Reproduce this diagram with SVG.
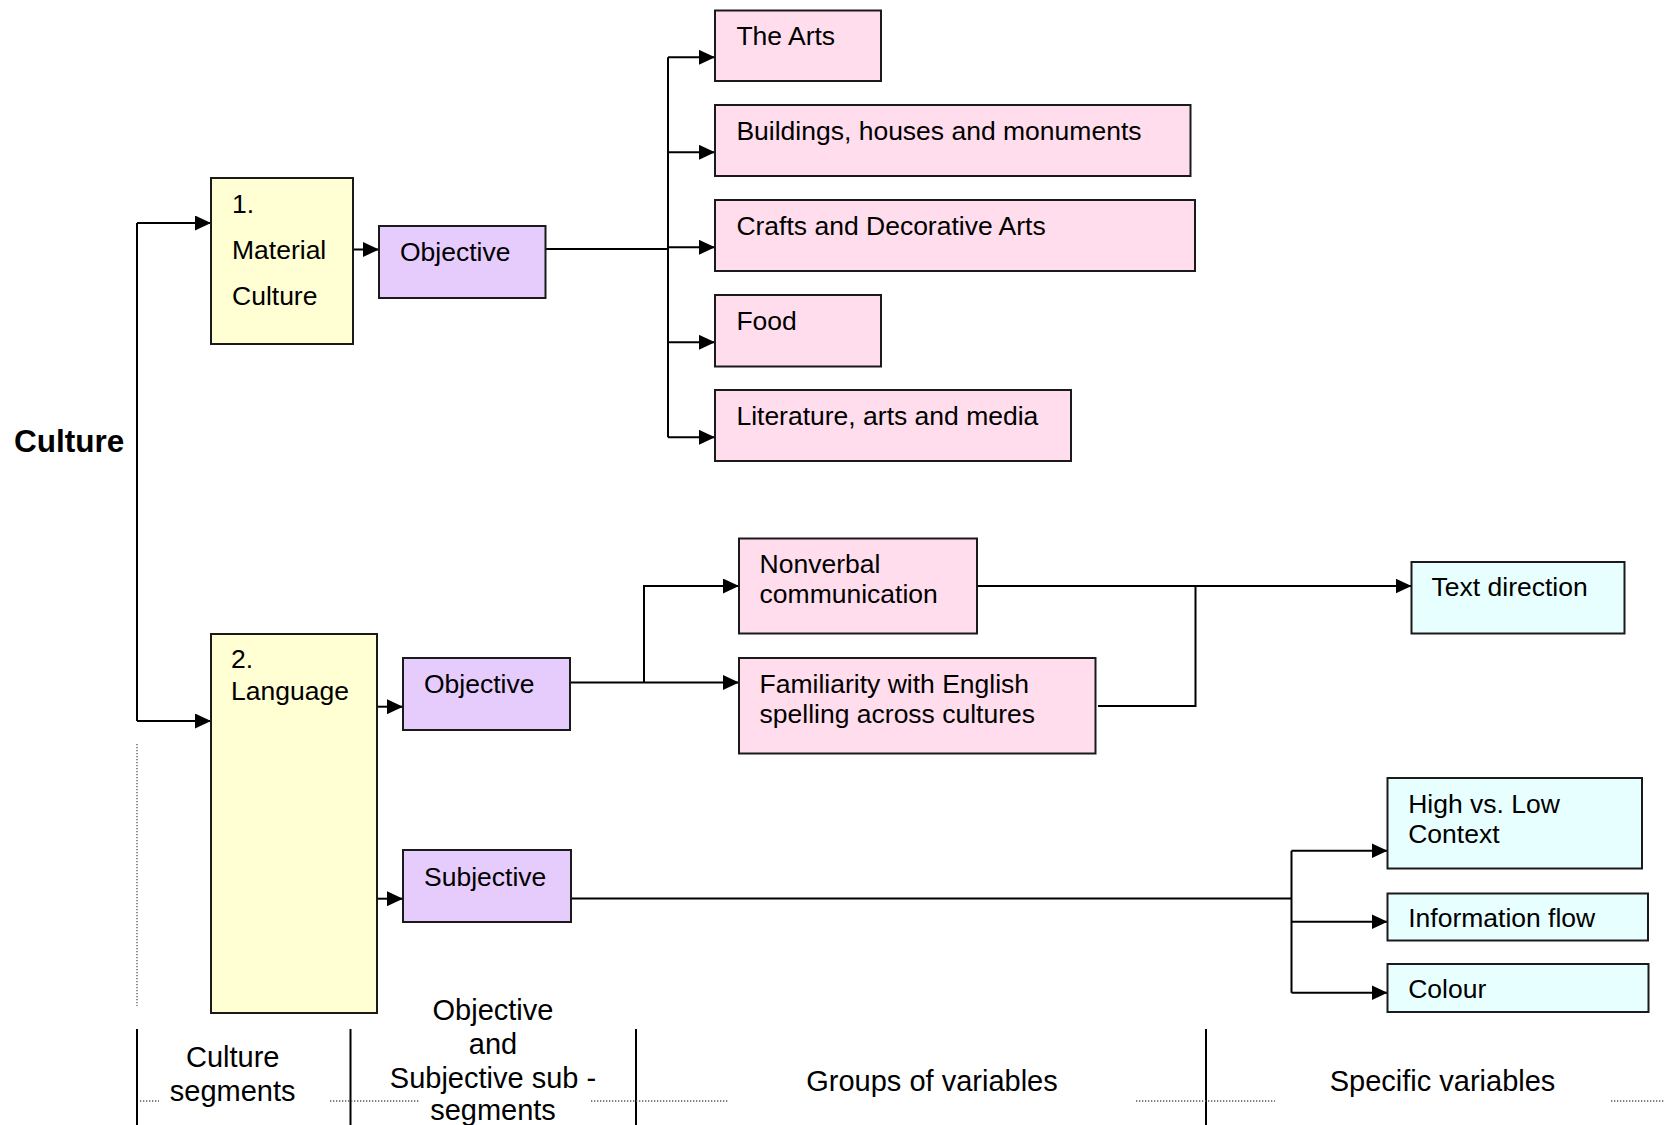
<svg xmlns="http://www.w3.org/2000/svg" width="1664" height="1125" viewBox="0 0 1664 1125">
  <style>
    .box { stroke: #1a1a1a; stroke-width: 2; }
    .seg { fill: #ffffd3; }
    .sub { fill: #e6ccfd; }
    .grp { fill: #ffddec; }
    .var { fill: #e8ffff; }
    .lbl { font-family: "Liberation Sans", Arial, sans-serif; font-size: 26.5px; fill: #000; }
    .foot { font-family: "Liberation Sans", Arial, sans-serif; font-size: 29px; fill: #000; text-anchor: middle; }
    .title { font-family: "Liberation Sans", Arial, sans-serif; font-size: 31.5px; font-weight: bold; fill: #000; }
    .wire { fill: none; stroke: #000; stroke-width: 2; }
    .arr { marker-end: url(#head); }
    .sep { stroke: #000; stroke-width: 2; }
    .dot { stroke: #555; stroke-width: 1.3; stroke-dasharray: 1.3 1.7; fill: none; }
  </style>
  <defs>
    <marker id="head" markerUnits="userSpaceOnUse" markerWidth="16" markerHeight="15" refX="16" refY="7.5" orient="auto">
      <path d="M0,0 L16,7.5 L0,15 z" fill="#000"/>
    </marker>
  </defs>

  <rect width="1664" height="1125" fill="#fff"/>

  <text class="title" x="14" y="452">Culture</text>

  <!-- connectors -->
  <g id="connectors">
    <path class="wire" d="M137,223 V721"/>
    <path class="wire arr" d="M137,223 H211"/>
    <path class="wire arr" d="M137,721 H211"/>
    <path class="wire arr" d="M353,249.5 H379"/>
    <path class="wire" d="M545.5,249 H668 M668,57.3 V437.3"/>
    <path class="wire arr" d="M668,57.3 H715"/>
    <path class="wire arr" d="M668,152.3 H715"/>
    <path class="wire arr" d="M668,247.3 H715"/>
    <path class="wire arr" d="M668,342.3 H715"/>
    <path class="wire arr" d="M668,437.3 H715"/>
    <path class="wire arr" d="M377,706.7 H403"/>
    <path class="wire arr" d="M377,898.7 H403"/>
    <path class="wire arr" d="M570,682.5 H739"/>
    <path class="wire arr" d="M644,682.5 V586 H739"/>
    <path class="wire arr" d="M977,586 H1411.5"/>
    <path class="wire" d="M1098,706 H1195.5 V586"/>
    <path class="wire" d="M571,898.5 H1291.5 M1291.5,850.7 V992.7"/>
    <path class="wire arr" d="M1291.5,850.7 H1387.5"/>
    <path class="wire arr" d="M1291.5,921.7 H1387.5"/>
    <path class="wire arr" d="M1291.5,992.7 H1387.5"/>
  </g>

  <!-- culture segments -->
  <g id="material-culture">
    <rect class="box seg" x="211" y="178" width="142" height="166"/>
    <text class="lbl" x="232" y="212.7">1.</text>
    <text class="lbl" x="232" y="259">Material</text>
    <text class="lbl" x="232" y="305">Culture</text>
  </g>
  <g id="language">
    <rect class="box seg" x="211" y="634" width="166" height="379"/>
    <text class="lbl" x="231" y="668.3">2.</text>
    <text class="lbl" x="231" y="700">Language</text>
  </g>

  <!-- sub-segments -->
  <g id="objective-material">
    <rect class="box sub" x="379" y="226" width="166.5" height="72"/>
    <text class="lbl" x="400" y="260.7">Objective</text>
  </g>
  <g id="objective-language">
    <rect class="box sub" x="403" y="658" width="167" height="72"/>
    <text class="lbl" x="424" y="693.3">Objective</text>
  </g>
  <g id="subjective-language">
    <rect class="box sub" x="403" y="850" width="168" height="72"/>
    <text class="lbl" x="424" y="886">Subjective</text>
  </g>

  <!-- groups of variables -->
  <g id="the-arts">
    <rect class="box grp" x="715" y="10.5" width="166" height="70.5"/>
    <text class="lbl" x="736.4" y="45">The Arts</text>
  </g>
  <g id="buildings">
    <rect class="box grp" x="715" y="105" width="475.5" height="71"/>
    <text class="lbl" x="736.4" y="139.5">Buildings, houses and monuments</text>
  </g>
  <g id="crafts">
    <rect class="box grp" x="715" y="200" width="480" height="71"/>
    <text class="lbl" x="736.4" y="234.5">Crafts and Decorative Arts</text>
  </g>
  <g id="food">
    <rect class="box grp" x="715" y="295" width="166" height="71.5"/>
    <text class="lbl" x="736.4" y="329.5">Food</text>
  </g>
  <g id="literature">
    <rect class="box grp" x="715" y="390" width="356" height="71"/>
    <text class="lbl" x="736.4" y="424.5">Literature, arts and media</text>
  </g>
  <g id="nonverbal">
    <rect class="box grp" x="739" y="538.5" width="238" height="95"/>
    <text class="lbl" x="759.6" y="572.7">Nonverbal</text>
    <text class="lbl" x="759.6" y="603.3">communication</text>
  </g>
  <g id="familiarity">
    <rect class="box grp" x="739" y="658" width="356.5" height="95.5"/>
    <text class="lbl" x="759.6" y="693.3">Familiarity with English</text>
    <text class="lbl" x="759.6" y="723.3">spelling across cultures</text>
  </g>

  <!-- specific variables -->
  <g id="text-direction">
    <rect class="box var" x="1411.5" y="562" width="213" height="71.5"/>
    <text class="lbl" x="1431.6" y="596">Text direction</text>
  </g>
  <g id="high-low-context">
    <rect class="box var" x="1387.5" y="778" width="254.5" height="90.5"/>
    <text class="lbl" x="1408.2" y="813.3">High vs. Low</text>
    <text class="lbl" x="1408.2" y="843.3">Context</text>
  </g>
  <g id="information-flow">
    <rect class="box var" x="1387.5" y="893.5" width="260.5" height="47"/>
    <text class="lbl" x="1408.2" y="927.3">Information flow</text>
  </g>
  <g id="colour">
    <rect class="box var" x="1387.5" y="964" width="261" height="48"/>
    <text class="lbl" x="1408.2" y="998.3">Colour</text>
  </g>

  <!-- column legend along the bottom -->
  <g id="legend">
    <path class="dot" d="M137,744 V1006"/>
    <path class="sep" d="M137,1029 V1125 M350.5,1029 V1125 M636,1029 V1125 M1206,1029 V1125"/>
    <path class="dot" d="M140,1101 H159 M330,1101 H420 M591,1101 H729 M1136,1101 H1275 M1611,1101 H1664"/>
    <text class="foot" x="232.7" y="1067">Culture</text>
    <text class="foot" x="232.7" y="1101">segments</text>
    <text class="foot" x="493" y="1020">Objective</text>
    <text class="foot" x="493" y="1053.5">and</text>
    <text class="foot" x="493" y="1088">Subjective sub -</text>
    <text class="foot" x="493" y="1120">segments</text>
    <text class="foot" x="932" y="1091">Groups of variables</text>
    <text class="foot" x="1442.5" y="1091">Specific variables</text>
  </g>
</svg>
